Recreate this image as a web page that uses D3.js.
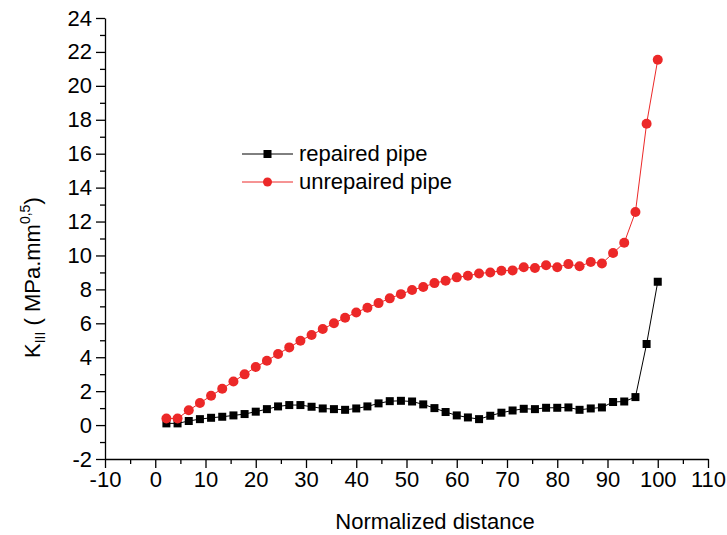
<!DOCTYPE html>
<html>
<head>
<meta charset="utf-8">
<script src="https://cdn.jsdelivr.net/npm/d3@7/dist/d3.min.js"></script>
<style>
  html, body { margin: 0; padding: 0; background: #fff; }
  svg { display: block; }
  text { font-family: Arial, "Liberation Sans", sans-serif; fill: #000; }
</style>
</head>
<body>
<svg id="chart" width="727" height="535"></svg>
<script>
const distance = [2.22, 4.44, 6.67, 8.89, 11.11, 13.33, 15.56, 17.78, 20.00, 22.22,
  24.44, 26.67, 28.89, 31.11, 33.33, 35.56, 37.78, 40.00, 42.22, 44.44,
  46.67, 48.89, 51.11, 53.33, 55.56, 57.78, 60.00, 62.22, 64.44, 66.67,
  68.89, 71.11, 73.33, 75.56, 77.78, 80.00, 82.22, 84.44, 86.67, 88.89,
  91.11, 93.33, 95.56, 97.78, 100.00];
const repaired = [0.10, 0.10, 0.24, 0.35, 0.43, 0.49, 0.57, 0.65, 0.79, 0.94,
  1.10, 1.18, 1.18, 1.08, 0.98, 0.94, 0.90, 0.98, 1.10, 1.28,
  1.41, 1.43, 1.39, 1.22, 1.00, 0.77, 0.57, 0.45, 0.35, 0.55,
  0.73, 0.86, 0.96, 0.94, 1.02, 1.02, 1.04, 0.90, 0.98, 1.04,
  1.36, 1.39, 1.65, 4.78, 8.45];
const unrepaired = [0.39, 0.39, 0.87, 1.30, 1.73, 2.14, 2.57, 2.99, 3.42, 3.79,
  4.19, 4.58, 4.97, 5.31, 5.66, 6.00, 6.33, 6.64, 6.92, 7.19,
  7.47, 7.72, 7.96, 8.14, 8.37, 8.51, 8.71, 8.80, 8.94, 9.00,
  9.10, 9.12, 9.30, 9.26, 9.42, 9.30, 9.49, 9.36, 9.61, 9.53,
  10.14, 10.75, 12.56, 17.77, 21.54];
const seriesNames = ["repaired pipe", "unrepaired pipe"];
const xMajorTicks = [-10, 0, 10, 20, 30, 40, 50, 60, 70, 80, 90, 100, 110];
const xMinorTicks = [-5, 5, 15, 25, 35, 45, 55, 65, 75, 85, 95, 105];
const yMajorTicks = [-2, 0, 2, 4, 6, 8, 10, 12, 14, 16, 18, 20, 22, 24];
const yMinorTicks = [-1, 1, 3, 5, 7, 9, 11, 13, 15, 17, 19, 21, 23];
const xTitle = "Normalized distance";

const RED = "#ec2828";
const FS = 22;
const svg = d3.select("#chart");
const x = d3.scaleLinear().domain([-10, 110]).range([105, 708]);
const y = d3.scaleLinear().domain([-2, 24]).range([459, 18]);
const fmt = d => String(d);

// axes
const gx = svg.append("g").attr("transform", "translate(0,459)");
gx.call(d3.axisBottom(x).tickValues(xMinorTicks).tickSize(5).tickSizeOuter(0).tickFormat(""));
gx.call(g => g.select(".domain").remove());
const gx2 = svg.append("g").attr("transform", "translate(0,459)");
gx2.call(d3.axisBottom(x).tickValues(xMajorTicks).tickSize(9).tickSizeOuter(0).tickPadding(3).tickFormat(fmt));
gx2.selectAll("text").attr("font-size", FS).attr("font-family", "Arial, 'Liberation Sans', sans-serif");

const gy = svg.append("g").attr("transform", "translate(105,0)");
gy.call(d3.axisLeft(y).tickValues(yMinorTicks).tickSize(5).tickSizeOuter(0).tickFormat(""));
gy.call(g => g.select(".domain").remove());
const gy2 = svg.append("g").attr("transform", "translate(105,0)");
gy2.call(d3.axisLeft(y).tickValues(yMajorTicks).tickSize(9).tickSizeOuter(0).tickPadding(4).tickFormat(fmt));
gy2.selectAll("text").attr("font-size", FS).attr("font-family", "Arial, 'Liberation Sans', sans-serif");

svg.selectAll(".tick line, .domain").attr("stroke", "#000").attr("stroke-width", 1.3);

// axis titles
svg.append("text").attr("x", 435).attr("y", 529).attr("text-anchor", "middle")
  .attr("font-size", FS).text(xTitle);

const yl = svg.append("text").attr("transform", "translate(40,358) rotate(-90)")
  .attr("font-size", FS);
yl.append("tspan").text("K");
yl.append("tspan").attr("font-size", 14).attr("dy", 5).text("III");
yl.append("tspan").attr("dy", -5).text(" ( MPa.mm");
yl.append("tspan").attr("font-size", 14).attr("dy", -10).text("0,5");
yl.append("tspan").attr("dy", 10).text(")");

// data
const pts = (vals) => distance.map((d, i) => [d, vals[i]]);
const line = d3.line().x(d => x(d[0])).y(d => y(d[1]));

svg.append("path").datum(pts(repaired)).attr("d", line)
  .attr("fill", "none").attr("stroke", "#000").attr("stroke-width", 1);
svg.append("g").selectAll("rect").data(pts(repaired)).join("rect")
  .attr("x", d => x(d[0]) - 4).attr("y", d => y(d[1]) - 4)
  .attr("width", 8).attr("height", 8).attr("fill", "#000");

svg.append("path").datum(pts(unrepaired)).attr("d", line)
  .attr("fill", "none").attr("stroke", RED).attr("stroke-width", 1);
svg.append("g").selectAll("circle").data(pts(unrepaired)).join("circle")
  .attr("cx", d => x(d[0])).attr("cy", d => y(d[1])).attr("r", 5).attr("fill", RED);

// legend
const leg = svg.append("g");
const legY = [154, 182];
const legColors = ["#000", RED];
seriesNames.forEach((name, i) => {
  leg.append("line").attr("x1", 242).attr("x2", 293).attr("y1", legY[i]).attr("y2", legY[i])
    .attr("stroke", legColors[i]).attr("stroke-width", 1);
  if (i === 0) {
    leg.append("rect").attr("x", 263.5).attr("y", legY[i] - 4).attr("width", 8).attr("height", 8).attr("fill", "#000");
  } else {
    leg.append("circle").attr("cx", 267.5).attr("cy", legY[i]).attr("r", 4.5).attr("fill", RED);
  }
  leg.append("text").attr("x", 299).attr("y", legY[i] + 7).attr("font-size", FS).text(name);
});
</script>
</body>
</html>
